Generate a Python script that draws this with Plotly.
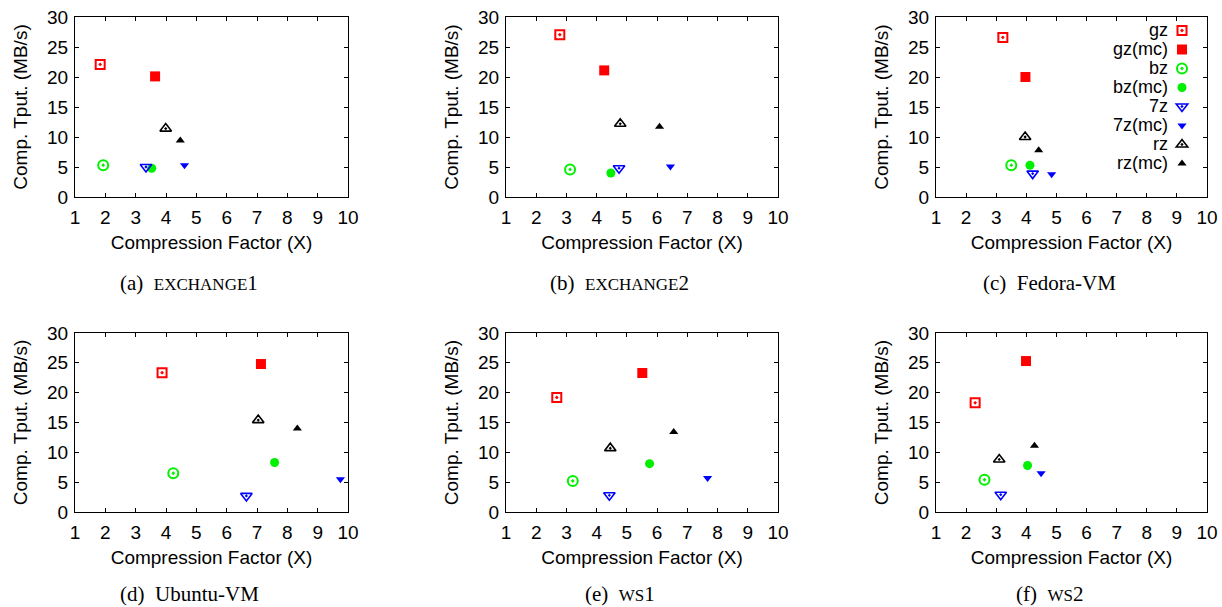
import plotly.graph_objects as go

# Panels: (a) EXCHANGE1, (b) EXCHANGE2, (c) Fedora-VM, (d) Ubuntu-VM, (e) ws1, (f) ws2
captions = ["(a)  <span style='font-size:17px'>EXCHANGE</span>1",
            "(b)  <span style='font-size:17px'>EXCHANGE</span>2",
            "(c)  Fedora-VM",
            "(d)  Ubuntu-VM",
            "(e)  <span style='font-size:17px'>WS</span>1",
            "(f)  <span style='font-size:17px'>WS</span>2"]

series_names = ["gz", "gz(mc)", "bz", "bz(mc)", "7z", "7z(mc)", "rz", "rz(mc)"]

gz_x = [1.83, 2.78, 3.22, 3.87, 2.68, 2.30]
gz_y = [22.1, 27.05, 26.6, 23.35, 19.2, 18.3]
gzmc_x = [3.64, 4.25, 3.97, 7.13, 5.51, 3.99]
gzmc_y = [20.1, 21.1, 20.0, 24.8, 23.3, 25.3]
bz_x = [1.93, 3.12, 3.50, 4.24, 3.21, 2.61]
bz_y = [5.3, 4.6, 5.3, 6.5, 5.2, 5.4]
bzmc_x = [3.53, 4.47, 4.12, 7.58, 5.75, 4.04]
bzmc_y = [4.8, 4.0, 5.3, 8.3, 8.1, 7.8]
z7_x = [3.34, 4.74, 4.21, 6.65, 4.42, 3.15]
z7_y = [5.0, 4.8, 3.9, 2.7, 2.8, 2.9]
z7mc_x = [4.61, 6.44, 4.84, 9.75, 7.67, 4.49]
z7mc_y = [5.3, 5.1, 3.8, 5.5, 5.7, 6.5]
rz_x = [3.99, 4.78, 3.96, 7.04, 4.45, 3.10]
rz_y = [11.4, 12.2, 10.0, 15.4, 10.7, 8.8]
rzmc_x = [4.47, 6.08, 4.41, 8.33, 6.55, 4.27]
rzmc_y = [9.4, 11.7, 7.8, 14.0, 13.4, 11.1]

xs = [gz_x, gzmc_x, bz_x, bzmc_x, z7_x, z7mc_x, rz_x, rzmc_x]
ys = [gz_y, gzmc_y, bz_y, bzmc_y, z7_y, z7mc_y, rz_y, rzmc_y]

styles = [
    dict(symbol="square-open-dot", color="#ff0000", size=9, lw=2),
    dict(symbol="square", color="#ff0000", size=10, lw=0),
    dict(symbol="circle-open-dot", color="#00f000", size=10, lw=2),
    dict(symbol="circle", color="#00f000", size=9, lw=0),
    dict(symbol="triangle-down-open-dot", color="#0000ff", size=10, lw=1.6),
    dict(symbol="triangle-down", color="#0000ff", size=8, lw=0),
    dict(symbol="triangle-up-open-dot", color="#000000", size=10, lw=1.6),
    dict(symbol="triangle-up", color="#000000", size=8, lw=0),
]

W, H = 1222, 607
x_px = [(75, 348), (506, 778), (936, 1207)]
y_px = [(17, 197), (333, 512)]
caption_y_px = [283, 594]

fig = go.Figure()
FONT = "Liberation Sans, Arial, Helvetica, sans-serif"

for p in range(6):
    r, c = divmod(p, 3)
    idx = "" if p == 0 else str(p + 1)
    xa, ya = "x" + idx, "y" + idx
    for s in range(8):
        st = styles[s]
        fig.add_trace(go.Scatter(
            x=[xs[s][p]], y=[ys[s][p]], mode="markers", name=series_names[s],
            showlegend=False, xaxis=xa, yaxis=ya, cliponaxis=False,
            marker=dict(symbol=st["symbol"], color=st["color"], size=st["size"],
                        line=dict(width=st["lw"], color=st["color"]))))
    xd = [x_px[c][0] / W, x_px[c][1] / W]
    yd = [1 - y_px[r][1] / H, 1 - y_px[r][0] / H]
    common = dict(showgrid=False, zeroline=False, showline=True, linecolor="black",
                  linewidth=1, mirror="ticks", ticks="inside", ticklen=4,
                  tickcolor="black", tickfont=dict(size=19, color="black", family=FONT),
                  fixedrange=True, automargin=False)
    fig.layout["xaxis" + idx] = dict(domain=xd, anchor=ya, range=[1, 10], dtick=1,
                                     tick0=1, ticklabelstandoff=3,
                                     title=dict(text="Compression Factor (X)", standoff=8,
                                                font=dict(size=19, color="black", family=FONT)),
                                     **common)
    fig.layout["yaxis" + idx] = dict(domain=yd, anchor=xa, range=[0, 30], dtick=5,
                                     tick0=0, ticklabelstandoff=2,
                                     title=dict(text="Comp. Tput. (MB/s)", standoff=14,
                                                font=dict(size=19, color="black", family=FONT)),
                                     **common)
    fig.add_annotation(text=captions[p], xref="paper", yref="paper",
                       x=(x_px[c][0] + 0.418 * (x_px[c][1] - x_px[c][0])) / W,
                       y=1 - caption_y_px[r] / H,
                       showarrow=False, xanchor="center", yanchor="middle",
                       font=dict(family="Liberation Serif, Times New Roman, serif", size=21,
                                 color="black"))

# Legend (gnuplot style: label on the left, symbol on the right) inside panel (c)
LEG_TOP = 16        # px from top of figure
LEG_STEP = 19       # px between legend rows
SYM_X = 1183        # px, symbol centre
for s in range(8):
    st = styles[s]
    fig.add_trace(go.Scatter(
        x=[None], y=[None], mode="markers", name="", showlegend=True,
        xaxis="x3", yaxis="y3",
        marker=dict(symbol=st["symbol"], color=st["color"], size=st["size"],
                    line=dict(width=st["lw"], color=st["color"]))))
    fig.add_annotation(text=series_names[s], xref="paper", yref="paper",
                       x=(SYM_X - 14) / W, y=1 - (LEG_TOP + 14 + s * LEG_STEP) / H,
                       xanchor="right", yanchor="middle", showarrow=False,
                       borderpad=0,
                       font=dict(size=18, family=FONT, color="black"))

fig.update_layout(
    width=W, height=H, margin=dict(l=0, r=0, t=0, b=0),
    plot_bgcolor="white", paper_bgcolor="white",
    font=dict(family=FONT, size=18, color="black"),
    legend=dict(x=(SYM_X - 21) / W, xanchor="left", y=1 - LEG_TOP / H, yanchor="top",
                bgcolor="rgba(0,0,0,0)", font=dict(size=10, family=FONT),
                itemwidth=30, tracegroupgap=0, borderwidth=0),
)

fig.write_html("out.html", config={"displayModeBar": False},
               post_script="document.body.style.margin='0px';")
